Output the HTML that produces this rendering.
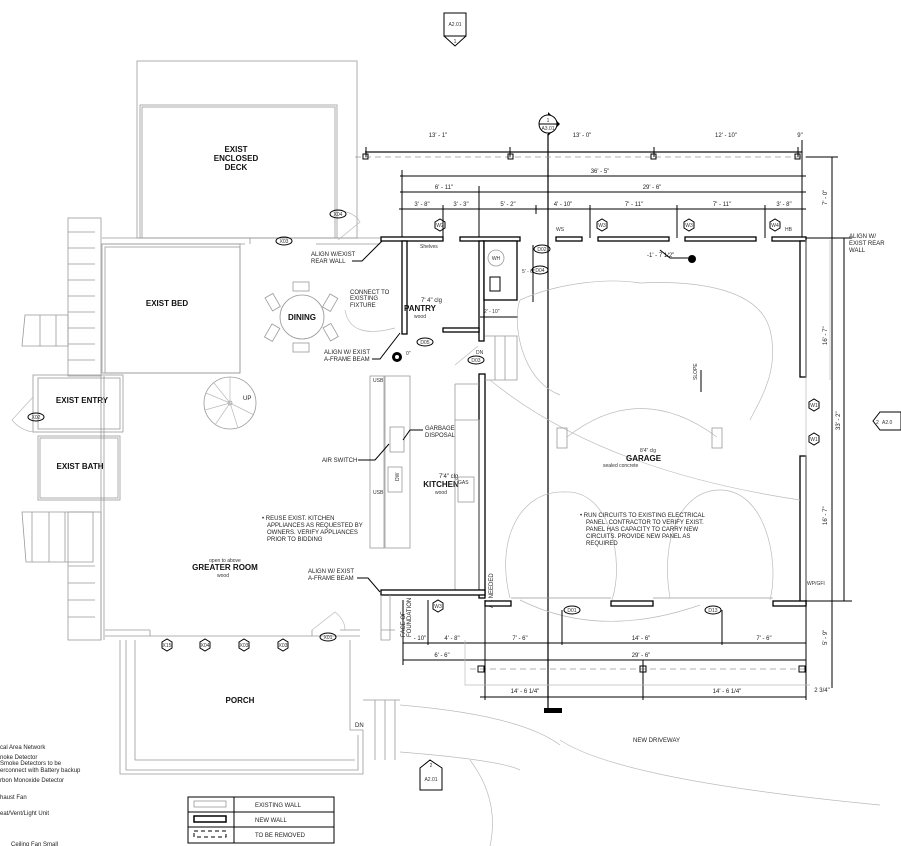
<!DOCTYPE html>
<html><head><meta charset="utf-8"><style>
html,body{margin:0;padding:0;background:#fff;}
svg{display:block;font-family:"Liberation Sans",sans-serif;}
.e{fill:none;stroke:#999;stroke-width:0.8}
.l{fill:none;stroke:#bbb;stroke-width:0.7}
.k{fill:none;stroke:#000;stroke-width:1}
.d{fill:none;stroke:#111;stroke-width:1.2}
.w{fill:#fff;stroke:#000;stroke-width:1.3}
.t{font-size:6px;fill:#222}
.b{font-size:8px;font-weight:bold;fill:#111}
.s{font-size:5px;fill:#333}
</style></head><body>
<svg width="901" height="846" viewBox="0 0 901 846" xmlns="http://www.w3.org/2000/svg">
<rect width="901" height="846" fill="#fff"/>
<rect x="444" y="13" width="22" height="23" class="k"/><text x="455" y="26" class="s" text-anchor="middle">A2.01</text>
<path d="M444 36 L455 46 L466 36" class="k"/><text x="455" y="43" class="s" text-anchor="middle">1</text>
<path d="M548 112 L560 124 L548 136 Z" fill="#000"/>
<circle cx="548" cy="124" r="9" fill="#fff" stroke="#000"/><line x1="539" y1="124" x2="557" y2="124" class="k"/>
<text x="548" y="122" class="s" text-anchor="middle">1</text><text x="548" y="130" class="s" text-anchor="middle">A3.01</text>
<line x1="548" y1="134" x2="548" y2="712" stroke="#000" stroke-width="1.2"/>
<rect x="544" y="708" width="18" height="5" fill="#000"/>
<rect x="137" y="61" width="220" height="177" class="e"/>
<rect x="140" y="105" width="197" height="133" class="e"/><rect x="142" y="107" width="193" height="131" class="e"/>
<text x="236" y="152" class="b" text-anchor="middle">EXIST</text><text x="236" y="161" class="b" text-anchor="middle">ENCLOSED</text><text x="236" y="170" class="b" text-anchor="middle">DECK</text>
<path d="M336 210 Q355 212 360 222 L338 240" class="l"/>
<ellipse cx="338" cy="214" rx="8" ry="4" class="k"/><text x="338" y="216" class="s" text-anchor="middle">X04</text>
<path d="M102 238 H250 M102 244 H245 M250 238 V244 M316 238 H380 M316 244 H380" class="e"/>
<ellipse cx="284" cy="241" rx="8" ry="4" class="k"/><text x="284" y="243" class="s" text-anchor="middle">X03</text>
<rect x="102" y="244" width="138" height="129" class="e"/><rect x="105" y="247" width="135" height="126" class="e"/>
<text x="167" y="306" class="b" text-anchor="middle">EXIST BED</text>
<rect x="68" y="218" width="33" height="158" class="e"/>
<g class="e"><line x1="68" y1="232" x2="95" y2="232"/><line x1="68" y1="248" x2="95" y2="248"/><line x1="68" y1="264" x2="95" y2="264"/><line x1="68" y1="280" x2="95" y2="280"/><line x1="68" y1="296" x2="95" y2="296"/><line x1="68" y1="312" x2="95" y2="312"/><line x1="68" y1="328" x2="95" y2="328"/><line x1="68" y1="344" x2="95" y2="344"/><line x1="68" y1="360" x2="95" y2="360"/></g>
<path d="M25 315 L68 315 L68 346 L22 346 Z M40 315 V346 M56 315 V346" class="e"/>
<rect x="33" y="375" width="90" height="57" class="e"/><rect x="38" y="378" width="82" height="51" class="e"/>
<text x="82" y="403" class="b" text-anchor="middle">EXIST ENTRY</text>
<path d="M33 397 L12 420 Q20 430 33 432" class="l"/>
<ellipse cx="36" cy="417" rx="8" ry="4" class="k"/><text x="36" y="419" class="s" text-anchor="middle">X02</text>
<rect x="38" y="436" width="82" height="64" class="e"/><rect x="40" y="438" width="78" height="60" class="e"/>
<text x="80" y="469" class="b" text-anchor="middle">EXIST BATH</text>
<path d="M22 512 H93 V562 H26 Z M32 512 V562 M49 512 V562 M65 512 V562" class="e"/>
<rect x="68" y="512" width="33" height="128" class="e"/>
<g class="e"><line x1="68" y1="566" x2="95" y2="566"/><line x1="68" y1="583" x2="95" y2="583"/><line x1="68" y1="600" x2="95" y2="600"/><line x1="68" y1="617" x2="95" y2="617"/></g>
<line x1="101" y1="376" x2="101" y2="640" class="e"/><line x1="104" y1="376" x2="104" y2="640" class="e"/>
<circle cx="230" cy="403" r="26" class="e"/><circle cx="230" cy="403" r="2" class="e"/>
<g class="l"><line x1="230" y1="403" x2="230" y2="377"/><line x1="230" y1="403" x2="206" y2="393"/><line x1="230" y1="403" x2="205" y2="410"/><line x1="230" y1="403" x2="215" y2="425"/><line x1="230" y1="403" x2="238" y2="428"/><line x1="230" y1="403" x2="254" y2="415"/><line x1="230" y1="403" x2="214" y2="383"/></g>
<text x="243" y="400" class="t">UP</text>
<circle cx="302" cy="317" r="22" class="e"/>
<g class="e"><rect x="293" y="282" width="16" height="9"/><rect x="293" y="343" width="16" height="9"/><rect x="268" y="295" width="9" height="15" transform="rotate(-30 272 302)"/><rect x="326" y="295" width="9" height="15" transform="rotate(30 330 302)"/><rect x="268" y="325" width="9" height="15" transform="rotate(30 272 332)"/><rect x="326" y="325" width="9" height="15" transform="rotate(-30 330 332)"/></g>
<text x="302" y="320" class="b" text-anchor="middle">DINING</text>
<text x="350" y="294" class="t">CONNECT TO</text><text x="350" y="300" class="t">EXISTING</text><text x="350" y="307" class="t">FIXTURE</text>
<path d="M345 310 Q350 340 395 328" class="l"/>
<text x="311" y="256" class="t">ALIGN W/EXIST</text><text x="311" y="263" class="t">REAR WALL</text>
<path d="M352 261 H362 L385 238" class="k"/>
<text x="324" y="354" class="t">ALIGN W/ EXIST</text><text x="324" y="361" class="t">A-FRAME BEAM</text>
<path d="M372 359 H380 L400 333" class="k"/>
<circle cx="397" cy="357" r="5" fill="#000"/><circle cx="397" cy="357" r="2" fill="#fff"/><text x="406" y="355" class="s">0"</text>
<line x1="365" y1="152" x2="802" y2="152" class="d"/>
<g class="k"><line x1="366" y1="147" x2="366" y2="157"/><line x1="510" y1="147" x2="510" y2="157"/><line x1="654" y1="147" x2="654" y2="157"/><line x1="798" y1="147" x2="798" y2="157"/><line x1="802" y1="140" x2="802" y2="240"/></g>
<text x="438" y="137" class="t" text-anchor="middle">13' - 1"</text><text x="582" y="137" class="t" text-anchor="middle">13' - 0"</text><text x="726" y="137" class="t" text-anchor="middle">12' - 10"</text><text x="800" y="137" class="t" text-anchor="middle">9"</text>
<line x1="355" y1="157" x2="830" y2="157" stroke="#999" stroke-dasharray="6 4" stroke-width="0.8"/>
<g class="k" fill="#fff"><rect x="363" y="154" width="5" height="5"/><rect x="508" y="154" width="5" height="5"/><rect x="651" y="154" width="5" height="5"/><rect x="795" y="154" width="5" height="5"/></g>
<line x1="400" y1="176" x2="806" y2="176" class="k"/><text x="600" y="173" class="t" text-anchor="middle">36' - 5"</text>
<line x1="400" y1="192" x2="806" y2="192" class="k"/><text x="444" y="189" class="t" text-anchor="middle">6' - 11"</text><text x="652" y="189" class="t" text-anchor="middle">29' - 6"</text>
<line x1="399" y1="209" x2="806" y2="209" class="k"/>
<g class="t" text-anchor="middle"><text x="422" y="206">3' - 8"</text><text x="461" y="206">3' - 3"</text><text x="508" y="206">5' - 2"</text><text x="563" y="206">4' - 10"</text><text x="634" y="206">7' - 11"</text><text x="722" y="206">7' - 11"</text><text x="784" y="206">3' - 8"</text></g>
<g class="k"><line x1="402" y1="170" x2="402" y2="240"/><line x1="443" y1="205" x2="443" y2="240"/><line x1="479" y1="186" x2="479" y2="240"/><line x1="536" y1="205" x2="536" y2="214"/><line x1="590" y1="205" x2="590" y2="238"/><line x1="677" y1="205" x2="677" y2="238"/><line x1="765" y1="205" x2="765" y2="238"/></g>
<rect x="381" y="237" width="62" height="4" class="w"/><rect x="460" y="237" width="60" height="4" class="w"/>
<rect x="556" y="237" width="26" height="4" class="w"/><rect x="598" y="237" width="71" height="4" class="w"/><rect x="685" y="237" width="71" height="4" class="w"/><rect x="772" y="237" width="34" height="4" class="w"/>
<g class="k"><polygon points="435,222 440,219 445,222 445,228 440,231 435,228"/><polygon points="597,222 602,219 607,222 607,228 602,231 597,228"/><polygon points="684,222 689,219 694,222 694,228 689,231 684,228"/><polygon points="770,222 775,219 780,222 780,228 775,231 770,228"/></g>
<g class="s" text-anchor="middle"><text x="440" y="227">W2</text><text x="602" y="227">W3</text><text x="689" y="227">W3</text><text x="775" y="227">W4</text></g>
<text x="556" y="231" class="s">WS</text><text x="785" y="231" class="s">HB</text>
<text x="647" y="257" class="t">-1' - 7 1/2"</text><path d="M660 250 L670 258 H688" class="k"/><circle cx="692" cy="259" r="4" fill="#000"/>
<rect x="402" y="241" width="5" height="93" class="w"/>
<rect x="479" y="241" width="5" height="100" class="w"/><rect x="479" y="374" width="6" height="224" class="w"/>
<rect x="443" y="328" width="36" height="4" class="w"/>
<rect x="484" y="241" width="33" height="59" class="w" fill="none"/>
<text x="420" y="248" class="s">Shelves</text><text x="421" y="302" class="t">7' 4" clg</text>
<text x="420" y="311" class="b" text-anchor="middle">PANTRY</text><text x="420" y="318" class="s" text-anchor="middle">wood</text>
<circle cx="496" cy="258" r="8" class="e"/><text x="496" y="260" class="s" text-anchor="middle">WH</text>
<rect x="490" y="277" width="10" height="14" class="k"/>
<line x1="533" y1="245" x2="533" y2="302" class="k"/><text x="522" y="273" class="s">5' - 6"</text>
<text x="484" y="313" class="s">2' - 10"</text><line x1="480" y1="317" x2="518" y2="317" class="k"/>
<ellipse cx="542" cy="249" rx="8" ry="4" class="k"/><text x="542" y="251" class="s" text-anchor="middle">D02</text>
<ellipse cx="540" cy="270" rx="8" ry="4" class="k"/><text x="540" y="272" class="s" text-anchor="middle">D04</text>
<ellipse cx="425" cy="342" rx="8" ry="4" class="k"/><text x="425" y="344" class="s" text-anchor="middle">D05</text>
<ellipse cx="476" cy="360" rx="8" ry="4" class="k"/><text x="476" y="362" class="s" text-anchor="middle">D03</text>
<text x="476" y="354" class="s">DN</text>
<path d="M485 336 H517 V380 H485 M495 336 V380 M505 336 V380" class="e"/>
<path d="M455 365 L478 346" class="l"/>
<rect x="370" y="376" width="14" height="172" class="e"/><rect x="385" y="376" width="25" height="172" class="e"/>
<text x="373" y="382" class="s">USB</text><text x="373" y="494" class="s">USB</text>
<rect x="390" y="427" width="14" height="25" class="e"/><rect x="388" y="467" width="14" height="25" class="e"/><text x="397" y="483" class="s" transform="rotate(-90 397 481)">DW</text>
<text x="425" y="430" class="t">GARBAGE</text><text x="425" y="437" class="t">DISPOSAL</text><path d="M423 430 H410 L403 440" class="k"/>
<text x="322" y="462" class="t">AIR SWITCH</text><path d="M358 460 H375 L389 444" class="k"/>
<text x="439" y="478" class="t">7'4" clg</text><text x="441" y="487" class="b" text-anchor="middle">KITCHEN</text><text x="441" y="494" class="s" text-anchor="middle">wood</text>
<path d="M455 384 H479 M455 384 V420 M455 420 H479 V590 M455 420 V590" class="e"/>
<rect x="458" y="477" width="16" height="25" class="e"/><text x="458" y="484" class="s">GAS</text>
<text x="262" y="520" class="t">• REUSE EXIST. KITCHEN</text><text x="267" y="527" class="t">APPLIANCES AS REQUESTED BY</text><text x="267" y="534" class="t">OWNERS. VERIFY APPLIANCES</text><text x="267" y="541" class="t">PRIOR TO BIDDING</text>
<text x="225" y="562" class="s" text-anchor="middle">open to above</text><text x="225" y="570" class="b" text-anchor="middle">GREATER ROOM</text><text x="223" y="577" class="s" text-anchor="middle">wood</text>
<text x="308" y="573" class="t">ALIGN W/ EXIST</text><text x="308" y="580" class="t">A-FRAME BEAM</text><path d="M357 578 H368 L380 592" class="k"/>
<rect x="381" y="590" width="104" height="5" class="w"/>
<path d="M381 595 V640 H390 M390 595 V640" class="e"/>
<text x="405" y="637" class="t" transform="rotate(-90 405 637)">FACE OF</text><text x="411" y="637" class="t" transform="rotate(-90 411 637)">FOUNDATION</text>
<polygon points="433,603 438,600 443,603 443,609 438,612 433,609" class="k"/><text x="438" y="608" class="s" text-anchor="middle">W3</text>
<text x="493" y="608" class="t" transform="rotate(-90 493 608)">AS NEEDED</text>
<path d="M105 630 H150 M105 636 H360 M150 630 V636 M312 630 V636 M340 630 H360 M395 630 H381" class="e"/>
<g class="k"><polygon points="162,642 167,639 172,642 172,648 167,651 162,648"/><polygon points="200,642 205,639 210,642 210,648 205,651 200,648"/><polygon points="239,642 244,639 249,642 249,648 244,651 239,648"/><polygon points="278,642 283,639 288,642 288,648 283,651 278,648"/></g>
<g class="s" text-anchor="middle"><text x="167" y="647">X15</text><text x="205" y="647">X04</text><text x="244" y="647">X03</text><text x="283" y="647">X03</text></g>
<ellipse cx="328" cy="637" rx="8" ry="4" class="k"/><text x="328" y="639" class="s" text-anchor="middle">X01</text>
<path d="M312 630 L335 612 Q345 620 345 630" class="l"/>
<path d="M120 640 V774 H363 V730 H350 V640 M126 640 V770 H358 V735 M135 640 V760 H355" class="e"/>
<text x="240" y="703" class="b" text-anchor="middle">PORCH</text>
<path d="M363 700 H400 M375 700 V760 M385 700 V760 M395 700 V760" class="e"/><text x="355" y="727" class="t">DN</text>
<path d="M400 705 Q520 715 560 745 M400 752 Q500 760 520 770" class="l"/>
<path d="M560 740 Q620 780 880 805 M470 760 Q500 800 490 846" class="l"/>
<path d="M420 768 L430 760 L442 768 V790 H420 Z" class="k"/><text x="431" y="767" class="s" text-anchor="middle">2</text><text x="431" y="781" class="s" text-anchor="middle">A2.01</text>
<text x="633" y="742" class="t">NEW DRIVEWAY</text>
<rect x="800" y="241" width="6" height="136" class="w"/><rect x="800" y="456" width="6" height="149" class="w"/>
<rect x="485" y="601" width="26" height="5" class="w"/><rect x="611" y="601" width="42" height="5" class="w"/><rect x="773" y="601" width="33" height="5" class="w"/>
<path d="M511 598 H611 M653 598 H773" class="e"/>
<g class="l"><path d="M520 300 C560 282 610 278 640 283 C700 280 760 290 770 330 C780 370 760 400 750 420"/><path d="M520 300 C512 320 520 380 560 395"/><path d="M567 437 Q640 380 717 437"/><path d="M490 380 Q600 470 800 500"/><path d="M510 598 C495 540 520 490 565 492 C610 490 625 560 612 600"/><path d="M670 598 C660 540 680 490 720 490 C765 490 780 560 770 600"/><path d="M520 600 Q600 640 700 605"/></g>
<rect x="557" y="428" width="10" height="20" class="e"/><rect x="712" y="428" width="10" height="20" class="e"/>
<text x="640" y="452" class="s">8'4" clg</text><text x="626" y="461" class="b">GARAGE</text><text x="603" y="467" class="s">sealed concrete</text>
<text x="580" y="517" class="t">• RUN CIRCUITS TO EXISTING ELECTRICAL</text><text x="586" y="524" class="t">PANEL. CONTRACTOR TO VERIFY EXIST.</text><text x="586" y="531" class="t">PANEL HAS CAPACITY TO CARRY NEW</text><text x="586" y="538" class="t">CIRCUITS. PROVIDE NEW PANEL AS</text><text x="586" y="545" class="t">REQUIRED</text>
<line x1="701" y1="370" x2="701" y2="392" class="k"/><text x="697" y="380" class="s" transform="rotate(-90 697 380)">SLOPE</text>
<g class="k"><polygon points="809,402 814,399 819,402 819,408 814,411 809,408"/><polygon points="809,436 814,433 819,436 819,442 814,445 809,442"/></g>
<text x="814" y="407" class="s" text-anchor="middle">W1</text><text x="814" y="441" class="s" text-anchor="middle">W1</text>
<text x="807" y="585" class="s">WP/GFI</text>
<g class="s" text-anchor="middle"><ellipse cx="572" cy="610" rx="8" ry="4" class="k"/><text x="572" y="612">D01</text><ellipse cx="713" cy="610" rx="8" ry="4" class="k"/><text x="713" y="612">D13</text></g>
<path d="M806 240 V700 M830 240 V380" class="l"/>
<g class="k"><line x1="832" y1="157" x2="832" y2="688"/><line x1="844" y1="238" x2="844" y2="601"/><line x1="806" y1="238" x2="852" y2="238"/><line x1="806" y1="601" x2="852" y2="601"/><line x1="806" y1="157" x2="838" y2="157"/></g>
<g class="t"><text x="827" y="205" transform="rotate(-90 827 205)">7' - 0"</text><text x="827" y="345" transform="rotate(-90 827 345)">16' - 7"</text><text x="840" y="430" transform="rotate(-90 840 430)">33' - 2"</text><text x="827" y="525" transform="rotate(-90 827 525)">16' - 7"</text><text x="827" y="645" transform="rotate(-90 827 645)">5' - 9"</text></g>
<text x="849" y="238" class="t">ALIGN W/</text><text x="849" y="245" class="t">EXIST REAR</text><text x="849" y="252" class="t">WALL</text>
<path d="M873 421 L880 412 H901 V430 H880 Z" class="k"/><text x="876" y="424" class="s">2</text><text x="882" y="424" class="s">A2.0</text>
<line x1="403" y1="643" x2="806" y2="643" class="k"/>
<g class="t" text-anchor="middle"><text x="420" y="640">- 10"</text><text x="452" y="640">4' - 8"</text><text x="520" y="640">7' - 6"</text><text x="641" y="640">14' - 6"</text><text x="764" y="640">7' - 6"</text><text x="442" y="657">6' - 6"</text><text x="641" y="657">29' - 6"</text><text x="525" y="693">14' - 6 1/4"</text><text x="727" y="693">14' - 6 1/4"</text><text x="822" y="692">2 3/4"</text></g>
<line x1="403" y1="660" x2="806" y2="660" class="k"/>
<line x1="470" y1="669" x2="806" y2="669" stroke="#999" stroke-dasharray="6 4" stroke-width="0.8"/>
<g class="k" fill="#fff"><rect x="478" y="666" width="6" height="6"/><rect x="640" y="666" width="6" height="6"/><rect x="799" y="666" width="6" height="6"/></g>
<line x1="480" y1="697" x2="806" y2="697" class="k"/>
<g class="k"><line x1="485" y1="600" x2="485" y2="700"/><line x1="643" y1="660" x2="643" y2="700"/><line x1="806" y1="600" x2="806" y2="700"/><line x1="403" y1="600" x2="403" y2="665"/><line x1="428" y1="600" x2="428" y2="645"/><line x1="562" y1="610" x2="562" y2="645"/><line x1="722" y1="610" x2="722" y2="645"/></g>
<path d="M465 640 V685 H810" class="l"/>
<g class="k"><rect x="188" y="797" width="146" height="46"/><line x1="234" y1="797" x2="234" y2="843"/><line x1="188" y1="812" x2="334" y2="812"/><line x1="188" y1="827" x2="334" y2="827"/></g>
<rect x="194" y="801" width="32" height="6" class="e"/><rect x="194" y="816" width="32" height="6" fill="none" stroke="#000" stroke-width="1.5"/><rect x="194" y="831" width="32" height="6" fill="none" stroke="#000" stroke-dasharray="4 3"/>
<g class="t"><text x="255" y="807">EXISTING WALL</text><text x="255" y="822">NEW WALL</text><text x="255" y="837">TO BE REMOVED</text></g>
<g class="t"><text x="0" y="749">cal Area Network</text><text x="0" y="759">noke Detector</text><text x="0" y="765">Smoke Detectors to be</text><text x="0" y="772">erconnect with Battery backup</text><text x="0" y="782">rbon Monoxide Detector</text><text x="0" y="799">haust Fan</text><text x="0" y="815">eat/Vent/Light Unit</text><text x="11" y="846">Ceiling Fan Small</text></g>
</svg>
</body></html>
